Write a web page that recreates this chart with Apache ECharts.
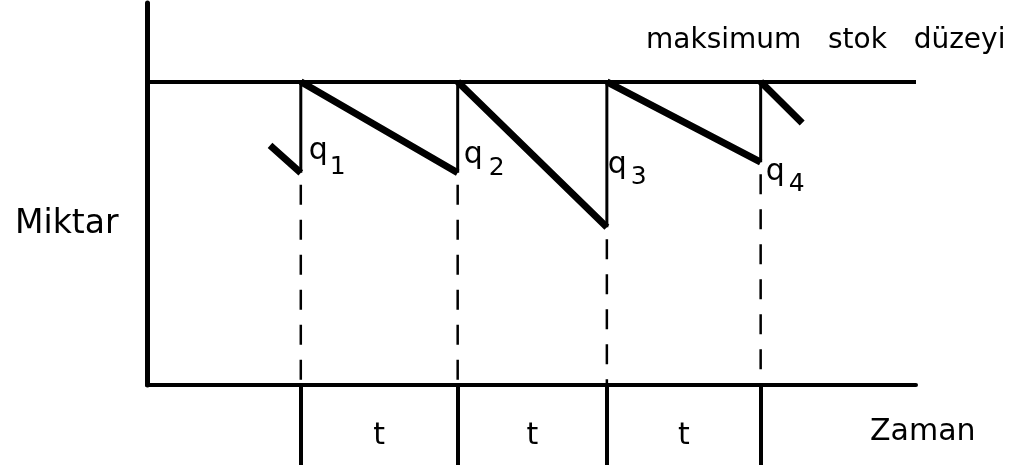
<!DOCTYPE html>
<html>
<head>
<meta charset="utf-8">
<script src="https://cdn.jsdelivr.net/npm/echarts@6/dist/echarts.min.js"></script>
<style>
	html, body { margin: 0; background: #fff; }
	#chart { width: 1027px; height: 470px; }
</style>
</head>
<body>
<div id="chart"></div>
<script>
/* zaman ekseni (sipariş anları) ve stok seviyeleri */
const reorderTimes = [10, 20.2, 29.9, 39.9];
const troughLevels = [70, 70, 52, 73.5];
const maxLevel = 100;
const startPoint = [8, 79];
const endPoint = [42.6, 86.4];
const qSubscripts = ['1', '2', '3', '4'];
const periodLabels = ['t', 't', 't'];
const xMax = 50;
const yMax = 126;

/* etiket kaydırmaları (piksel) */
const qOffsets = [[8, -22], [6, -18], [1, -62], [5, 10]];
const subOffsets = [[29, -5], [31, -4], [24, -50], [28, 22]];

const font = 'DejaVu Sans';
const empty = ['-', '-'];

/* testere dişi: azalan kısımlar */
const fallData = [startPoint, [reorderTimes[0], troughLevels[0]]];
reorderTimes.forEach((t, i) => {
	fallData.push(empty, [t, maxLevel]);
	if (i < reorderTimes.length - 1) fallData.push([reorderTimes[i + 1], troughLevels[i + 1]]);
	else fallData.push(endPoint);
});

/* yeniden doldurma (dikey) */
const riseData = [];
reorderTimes.forEach((t, i) => {
	riseData.push([t, troughLevels[i]], [t, maxLevel], empty);
});

const midpoints = periodLabels.map((_, i) => (reorderTimes[i] + reorderTimes[i + 1]) / 2);

const dashSeries = reorderTimes.map((t, i) => ({
	type: 'line',
	symbol: 'none',
	silent: true,
	lineStyle: { color: '#000', width: 2.5, type: [20, 15], dashOffset: 23 },
	data: [[t, troughLevels[i]], [t, 0]]
}));

const labelBase = {
	show: true,
	position: 'inside',
	align: 'left',
	verticalAlign: 'middle',
	fontFamily: font,
	color: '#000',
	opacity: 1,
	textBorderWidth: 0
};

const chart = echarts.init(document.getElementById('chart'));
chart.setOption({
	animation: false,
	backgroundColor: '#fff',
	title: [
		{
			text: 'Miktar',
			left: 10,
			top: 203,
			textStyle: { fontFamily: font, fontSize: 33, fontWeight: 'normal', color: '#000' }
		},
		{
			text: 'maksimum   stok   düzeyi',
			left: 641,
			top: 22,
			textStyle: { fontFamily: font, fontSize: 28, fontWeight: 'normal', color: '#000' }
		}
	],
	grid: { left: 147, right: 111, top: 3, bottom: 85 },
	xAxis: {
		type: 'value',
		min: 0,
		max: xMax,
		splitLine: { show: false },
		axisLine: { lineStyle: { color: '#000', width: 4 } },
		axisTick: {
			show: true,
			customValues: reorderTimes,
			length: 80,
			lineStyle: { color: '#000', width: 4 }
		},
		axisLabel: {
			customValues: midpoints,
			formatter: v => periodLabels[midpoints.indexOf(v)] || 't',
			margin: 36,
			fontFamily: font,
			fontSize: 30,
			color: '#000'
		},
		name: 'Zaman',
		nameLocation: 'end',
		nameGap: -46,
		nameTextStyle: {
			fontFamily: font,
			fontSize: 30,
			color: '#000',
			verticalAlign: 'top',
			padding: [32, 0, 0, 0]
		}
	},
	yAxis: {
		type: 'value',
		min: 0,
		max: yMax,
		splitLine: { show: false },
		axisTick: { show: false },
		axisLabel: { show: false },
		axisLine: { show: true, lineStyle: { color: '#000', width: 5 } }
	},
	series: [
		{
			type: 'line',
			symbol: 'none',
			silent: true,
			lineStyle: { color: '#000', width: 7 },
			data: fallData,
			markLine: {
				silent: true,
				symbol: 'none',
				label: { show: false },
				lineStyle: { color: '#000', width: 4, type: 'solid' },
				data: [{ yAxis: maxLevel }]
			}
		},
		{
			type: 'line',
			symbol: 'none',
			silent: true,
			lineStyle: { color: '#000', width: 3 },
			data: riseData
		},
		...dashSeries,
		{
			type: 'scatter',
			symbolSize: 1,
			silent: true,
			itemStyle: { color: 'transparent', opacity: 1 },
			label: Object.assign({}, labelBase, { formatter: 'q', fontSize: 30 }),
			data: reorderTimes.map((t, i) => ({ value: [t, troughLevels[i]], label: { offset: qOffsets[i] } }))
		},
		{
			type: 'scatter',
			symbolSize: 1,
			silent: true,
			itemStyle: { color: 'transparent', opacity: 1 },
			label: Object.assign({}, labelBase, { formatter: p => qSubscripts[p.dataIndex], fontSize: 25 }),
			data: reorderTimes.map((t, i) => ({ value: [t, troughLevels[i]], label: { offset: subOffsets[i] } }))
		}
	]
});
</script>
</body>
</html>
